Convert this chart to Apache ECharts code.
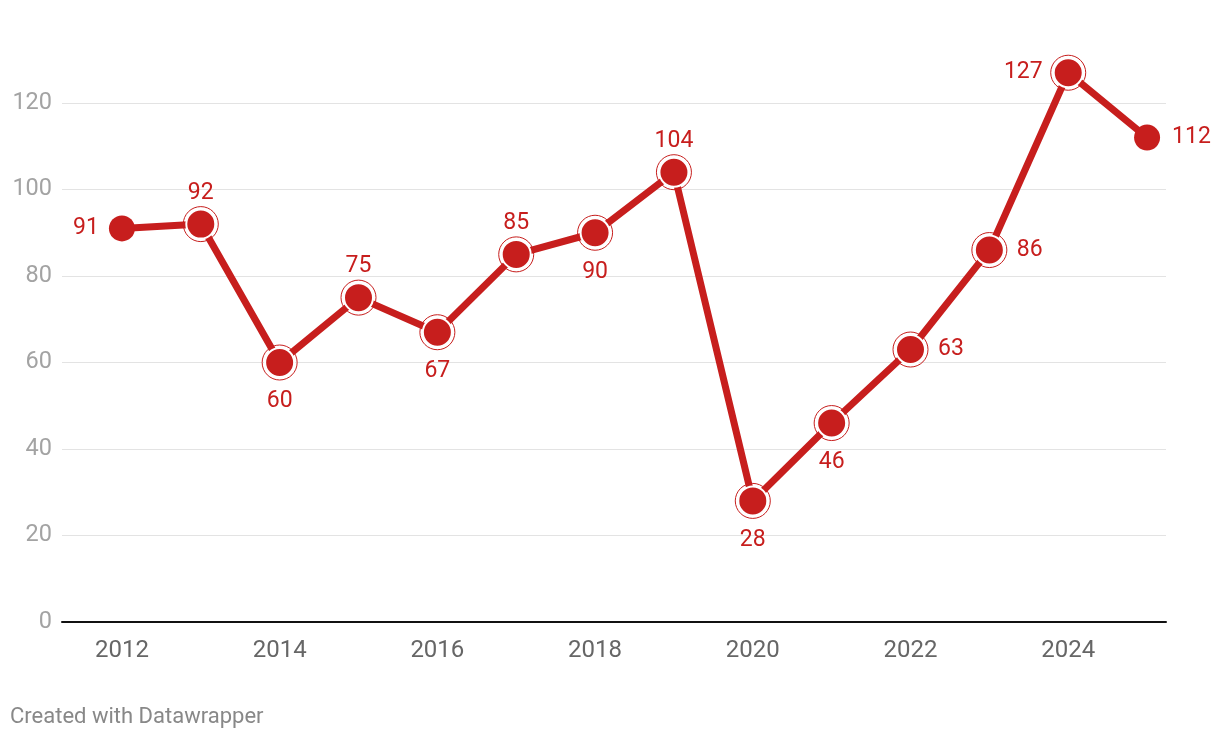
<!DOCTYPE html>
<html>
<head>
<meta charset="utf-8">
<script src="https://cdn.jsdelivr.net/npm/echarts@6/dist/echarts.min.js"></script>
<style>
html,body{margin:0;padding:0;background:#fff;}
#chart{width:1220px;height:738px;}
</style>
</head>
<body>
<div id="chart"></div>
<script>
var years = [2012, 2013, 2014, 2015, 2016, 2017, 2018, 2019, 2020, 2021, 2022, 2023, 2024, 2025];
var values = [91, 92, 60, 75, 67, 85, 90, 104, 28, 46, 63, 86, 127, 112];
var labelPlacement = ['left','top','bottom','top','bottom','top','bottom','top','bottom','bottom','right','right','left','right'];
var xTickLabels = [2012, 2014, 2016, 2018, 2020, 2022, 2024];
var yTicks = [0, 20, 40, 60, 80, 100, 120];

var RED = '#c71e1d';
var dist = {top: 4, bottom: 12, left: 10, right: 12};

var pts = years.map(function (y, i) { return [y, values[i]]; });
var ends = [0, years.length - 1];
var endData = ends.map(function (i) {
  return {value: pts[i], label: {position: labelPlacement[i], distance: dist[labelPlacement[i]]}};
});
var midData = [];
var ringData = [];
pts.forEach(function (p, i) {
  if (ends.indexOf(i) >= 0) return;
  midData.push({value: p, label: {position: labelPlacement[i], distance: dist[labelPlacement[i]]}});
  ringData.push(p);
});

var labelStyle = {
  show: true,
  color: RED,
  fontSize: 23,
  fontFamily: 'Roboto',
  formatter: function (p) { return p.value[1]; }
};

var chart = echarts.init(document.getElementById('chart'));
chart.setOption({
  animation: false,
  backgroundColor: '#fff',
  textStyle: {fontFamily: 'Roboto'},
  graphic: [{
    type: 'text', left: 10, top: 706,
    style: {text: 'Created with Datawrapper', fill: '#888', font: '22px Roboto'}
  }],
  grid: {left: 62, right: 54, top: 103, bottom: 116, containLabel: false},
  xAxis: {
    type: 'value',
    min: 2011.24,
    max: 2025.24,
    splitLine: {show: false},
    axisTick: {show: false},
    axisLine: {show: true, lineStyle: {color: '#111', width: 2}},
    axisLabel: {
      customValues: xTickLabels,
      color: '#666',
      fontSize: 24,
      margin: 17,
      formatter: function (v) { return String(v); }
    }
  },
  yAxis: {
    type: 'value',
    min: 0,
    max: 120,
    interval: 20,
    axisLine: {show: false},
    axisTick: {show: false},
    splitLine: {show: true, lineStyle: {color: '#e3e3e3', width: 1}},
    axisLabel: {color: '#a3a3a3', fontSize: 23.5, margin: 10,
      customValues: yTicks}
  },
  series: [
    {
      type: 'line',
      data: pts,
      symbol: 'none',
      clip: false,
      lineStyle: {color: RED, width: 7},
      z: 2
    },
    {
      type: 'scatter',
      data: ringData,
      symbol: 'circle',
      symbolSize: 35,
      clip: false,
      itemStyle: {color: 'rgba(0,0,0,0)', borderColor: RED, borderWidth: 1, opacity: 1},
      silent: true,
      z: 3
    },
    {
      type: 'scatter',
      data: midData,
      symbol: 'circle',
      symbolSize: 29,
      clip: false,
      itemStyle: {color: RED, borderColor: '#fff', borderWidth: 2, opacity: 1},
      label: labelStyle,
      z: 4
    },
    {
      type: 'scatter',
      data: endData,
      symbol: 'circle',
      symbolSize: 26,
      clip: false,
      itemStyle: {color: RED, opacity: 1},
      label: labelStyle,
      z: 4
    }
  ]
});
</script>
</body>
</html>
